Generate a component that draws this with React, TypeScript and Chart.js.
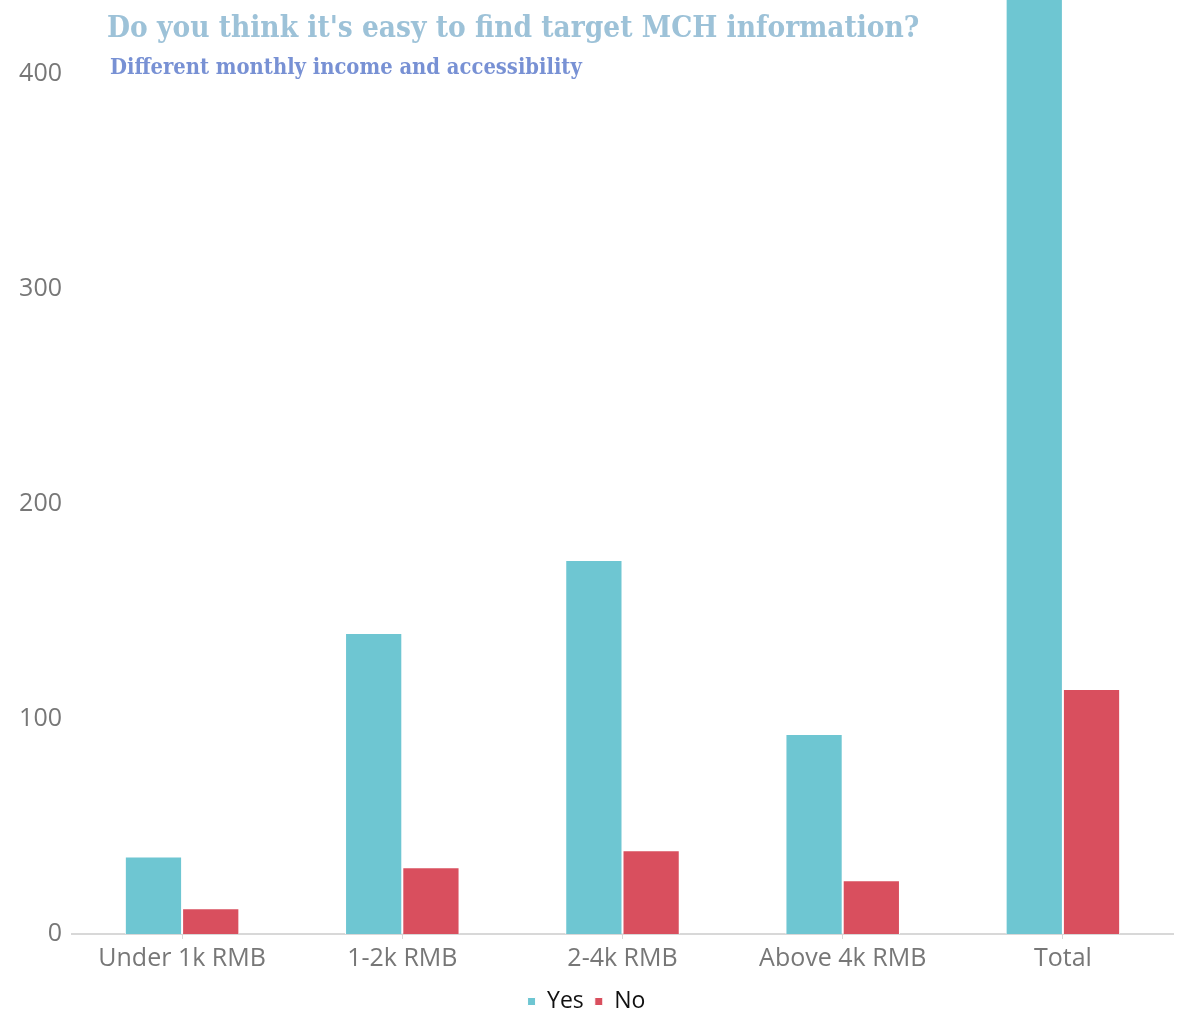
import React, { useEffect, useRef } from "react";
import { Chart, registerables } from "chart.js";

Chart.register(...registerables);

const categories = ["Under 1k RMB", "1-2k RMB", "2-4k RMB", "Above 4k RMB", "Total"];
const yesValues = [36, 140, 174, 93, 443];
const noValues = [12, 31, 39, 25, 114];
const yTickValues = [0, 100, 200, 300, 400];
const titleText = "Do you think it's easy to find target MCH information?";
const subtitleText = "Different monthly income and accessibility";

const titlePlugin = {
  id: "titleOverlay",
  afterDraw(chart: any) {
    const ctx = chart.ctx;
    ctx.save();
    const fam = '"DejaVu Serif Condensed", "DejaVu Serif", serif';
    const fit = (text: string, base: number, target: number) => {
      ctx.font = `bold ${base}px ${fam}`;
      const w = ctx.measureText(text).width;
      return (base * target) / w;
    };
    const s1 = fit(titleText, 30, 813);
    ctx.font = `bold ${s1}px ${fam}`;
    ctx.fillStyle = "#9dc2d8";
    ctx.textBaseline = "middle";
    ctx.textAlign = "left";
    ctx.fillText(titleText, 107, 29);
    const s2 = fit(subtitleText, 20, 472);
    ctx.font = `bold ${s2}px ${fam}`;
    ctx.fillStyle = "#7891d4";
    ctx.fillText(subtitleText, 110, 68);
    ctx.restore();
  },
};

export default function App() {
  const ref = useRef<HTMLCanvasElement>(null);
  useEffect(() => {
    if (!ref.current) return;
    const chart = new Chart(ref.current, {
      type: "bar",
      data: {
        labels: categories,
        datasets: [
          {
            label: "Yes",
            data: yesValues,
            backgroundColor: "#6ec6d2",
            borderColor: "#ffffff",
            borderWidth: 1,
            categoryPercentage: 0.52,
            barPercentage: 1,
          },
          {
            label: "No",
            data: noValues,
            backgroundColor: "#d94f5e",
            borderColor: "#ffffff",
            borderWidth: 1,
            categoryPercentage: 0.52,
            barPercentage: 1,
          },
        ],
      },
      options: {
        responsive: false,
        animation: false,
        layout: { padding: { top: 0, right: 8, left: 0, bottom: -13 } },
        plugins: {
          legend: {
            position: "bottom",
            labels: {
              boxWidth: 8,
              boxHeight: 8,
              color: "#111",
              font: { family: '"Open Sans"', size: 23 },
              padding: 11,
            },
          },
          tooltip: { enabled: false },
        },
        scales: {
          x: {
            grid: {
              display: true,
              drawOnChartArea: false,
              drawTicks: true,
              tickLength: 5,
              color: "#d8d8d8",
              offset: false,
            },
            border: { display: true, color: "#d8d8d8", width: 2 },
            ticks: {
              color: "#777",
              font: { family: '"Open Sans"', size: 25 },
              padding: 5,
              maxRotation: 0,
            },
          },
          y: {
            min: 0,
            max: 434.5,
            afterFit(scale: any) {
              scale.width = 72;
              scale.paddingTop = 0;
              scale.paddingBottom = 0;
            },
            afterBuildTicks(scale: any) {
              scale.ticks = yTickValues.map((v) => ({ value: v }));
            },
            grid: { display: false, drawTicks: false, tickLength: 0 },
            border: { display: false },
            ticks: {
              color: "#777",
              font: { family: '"Open Sans"', size: 25 },
              padding: 10,
              includeBounds: false,
            },
          },
        },
      },
      plugins: [titlePlugin],
    });
    return () => chart.destroy();
  }, []);
  return (
    <canvas
      ref={ref}
      width={1181}
      height={1010}
      style={{ position: "absolute", left: 0, top: 0, display: "block", background: "#fff" }}
    />
  );
}
